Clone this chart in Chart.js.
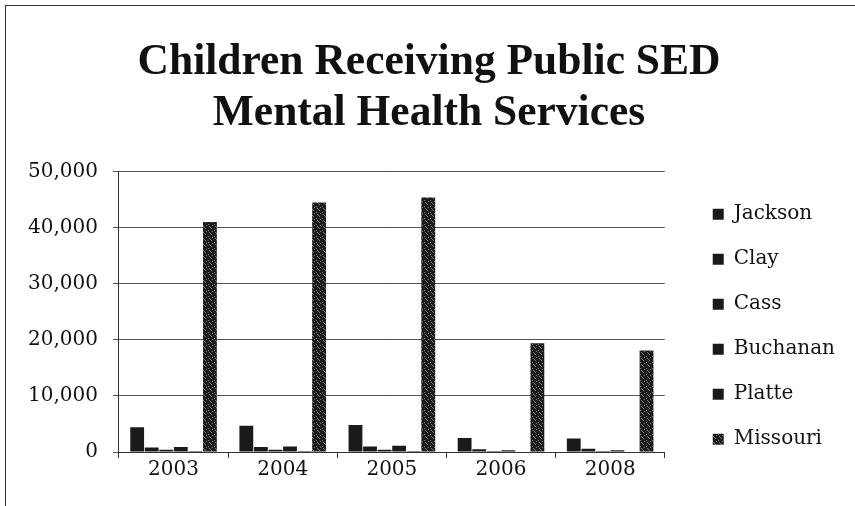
<!DOCTYPE html>
<html lang="en">
<head>
  <meta charset="UTF-8">
  <title>Children Receiving Public SED Mental Health Services</title>
  <script src="https://cdn.jsdelivr.net/npm/chart.js"></script>
  <style>
    html, body { margin: 0; padding: 0; background: #fff; }
    #wrap { position: relative; width: 855px; height: 506px; }
    #frame {
      position: absolute; left: 5px; top: 5px; right: -10px; bottom: -10px;
      border-top: 1px solid #333; border-left: 1px solid #333;
      pointer-events: none;
    }
  </style>
</head>
<body>
  <div id="wrap">
    <canvas id="sedChart" width="855" height="506"></canvas>
    <div id="frame"></div>
  </div>

  <script>
    // Years and counties
    const years = ['2003', '2004', '2005', '2006', '2008'];

    const jackson  = [4400, 4700, 4800, 2500, 2400];
    const clay     = [800, 900, 1000, 500, 600];
    const cass     = [400, 400, 400, 200, 200];
    const buchanan = [900, 1000, 1100, 300, 300];
    const platte   = [200, 200, 200, 100, 100];
    const missouri = [41000, 44500, 45400, 19400, 18100];

    const yTicks = [0, 10000, 20000, 30000, 40000, 50000];

    // speckled fill for the state totals
    function speckle() {
      const c = document.createElement('canvas');
      c.width = 6; c.height = 6;
      const g = c.getContext('2d');
      g.fillStyle = '#1c1c1c';
      g.fillRect(0, 0, 6, 6);
      g.fillStyle = '#7a7a7a';
      [[1, 0], [4, 2], [2, 3], [0, 5], [5, 4]].forEach(p => g.fillRect(p[0], p[1], 1, 1));
      return document.getElementById('sedChart').getContext('2d').createPattern(c, 'repeat');
    }

    const serif = "'DejaVu Serif', serif";
    const dark = '#1a1a1a';

    const ctx = document.getElementById('sedChart').getContext('2d');
    new Chart(ctx, {
      type: 'bar',
      data: {
        labels: years,
        datasets: [
          { label: 'Jackson',  data: jackson,  backgroundColor: dark },
          { label: 'Clay',     data: clay,     backgroundColor: dark },
          { label: 'Cass',     data: cass,     backgroundColor: dark },
          { label: 'Buchanan', data: buchanan, backgroundColor: dark },
          { label: 'Platte',   data: platte,   backgroundColor: dark },
          { label: 'Missouri', data: missouri, backgroundColor: speckle() }
        ]
      },
      options: {
        responsive: false,
        animation: false,
        datasets: {
          bar: { categoryPercentage: 0.8, barPercentage: 0.95 }
        },
        layout: { padding: { left: 13, right: 10, top: 37, bottom: 24 } },
        plugins: {
          title: {
            display: true,
            text: ['Children Receiving Public SED', 'Mental Health Services'],
            color: '#111',
            font: { family: "'Liberation Serif', serif", size: 43.5, weight: 'bold', lineHeight: 1.18 },
            padding: { top: 0, bottom: 32 }
          },
          legend: {
            position: 'right',
            maxWidth: 180,
            // empty title only pushes the column down beside the plot
            title: { display: true, text: '', padding: { top: 120, bottom: 0 }, font: { size: 12 } },
            labels: {
              color: '#111',
              boxWidth: 11,
              boxHeight: 11,
              padding: 25,
              font: { family: serif, size: 20 }
            }
          },
          tooltip: { enabled: false }
        },
        scales: {
          x: {
            grid: {
              display: true,
              drawOnChartArea: false,
              drawTicks: true,
              tickLength: 6,
              color: '#333'
            },
            border: { color: '#333' },
            ticks: { color: '#111', font: { family: serif, size: 20 }, padding: 0 }
          },
          y: {
            min: 0,
            max: 50000,
            afterBuildTicks: axis => { axis.ticks = yTicks.map(v => ({ value: v })); },
            grid: { color: '#555', tickLength: 6 },
            border: { color: '#333' },
            ticks: {
              color: '#111',
              font: { family: serif, size: 20 },
              padding: 15,
              callback: v => v.toLocaleString('en-US')
            }
          },
          // blank gap between the plot and the legend
          gap: {
            position: 'right',
            grid: { display: false },
            border: { display: false },
            ticks: { display: false },
            afterFit: s => { s.width = 23; }
          }
        }
      }
    });
  </script>
</body>
</html>
